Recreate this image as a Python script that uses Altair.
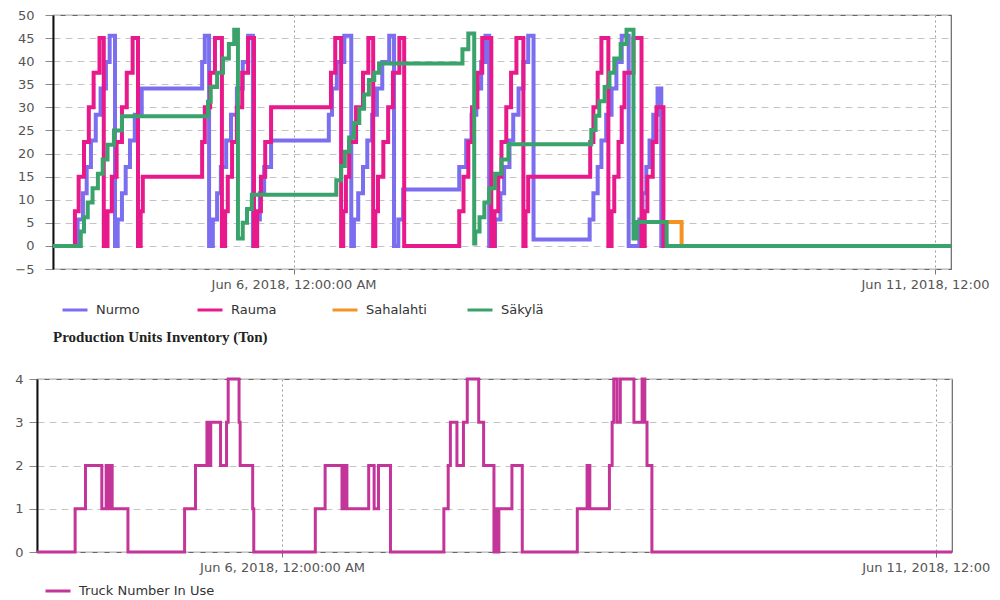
import altair as alt
import pandas as pd

# ---------------- data (hours counted from 2018-06-04 00:00, value) ----------------
BASE = pd.Timestamp("2018-06-04 00:00:00")

UNITS = ["Nurmo", "Rauma", "Sahalahti", "Säkylä"]
COLORS = ["#7b6ff0", "#e8198b", "#f39322", "#3aa36b"]
DRAW_ORDER = ["Sahalahti", "Nurmo", "Rauma", "Säkylä"]

NURMO = [(3, 0), (7.6, 5.7), (8.6, 11.4), (9.3, 17.1), (10.1, 22.8), (11.0, 28.4), (11.9, 34.1),
         (12.9, 39.8), (13.6, 45.5), (14.6, 0), (15.1, 5.7), (15.9, 11.4), (16.6, 17.1), (17.4, 22.8),
         (18.3, 28.4), (19.6, 34.1), (30.9, 39.8), (31.4, 45.5), (32.2, 0), (32.9, 5.7), (33.7, 11.4),
         (34.4, 17.1), (35.4, 22.8), (36.3, 28.4), (37.4, 34.1), (38.5, 39.8), (39.5, 45.5), (40.4, 0),
         (41.0, 5.7), (41.7, 11.4), (42.5, 17.1), (43.8, 22.8), (54.6, 28.4), (55.2, 34.1), (56.1, 39.8),
         (57.5, 45.5), (58.8, 0), (59.3, 5.7), (60.1, 11.4), (61.0, 17.1), (61.8, 22.8), (62.7, 28.4),
         (63.6, 34.1), (64.6, 39.8), (65.9, 45.5), (66.8, 0), (67.6, 5.7), (68.5, 12.2), (79.0, 17.1),
         (80.3, 22.8), (81.3, 28.4), (82.2, 34.1), (83.1, 39.8), (83.9, 45.5), (84.6, 0), (85.7, 5.7),
         (86.7, 11.4), (87.4, 17.1), (88.4, 22.8), (89.1, 28.4), (90.1, 34.1), (91.0, 39.8), (91.9, 45.5),
         (92.9, 1.4), (103.4, 5.7), (104.1, 11.4), (104.9, 17.1), (105.6, 22.8), (106.5, 28.4),
         (107.5, 34.1), (108.4, 39.8), (109.4, 45.5), (110.7, 0), (112.7, 5.7), (113.3, 11.4),
         (114.0, 17.1), (114.6, 22.8), (115.3, 28.4), (116.1, 34.1), (116.8, 0), (171, 0)]

RAUMA = [(3, 0), (7.1, 7.5), (7.8, 15), (8.8, 22.5), (9.7, 30), (10.6, 37.5), (11.7, 45), (12.5, 0),
         (13.2, 7.5), (14.0, 15), (14.9, 22.5), (15.9, 30), (16.8, 37.5), (17.9, 45), (18.9, 0),
         (19.4, 7.5), (19.8, 15), (30.9, 22.5), (31.4, 30), (32.4, 37.5), (33.3, 45), (34.6, 0),
         (35.2, 7.5), (35.7, 15), (36.5, 22.5), (37.4, 30), (38.4, 37.5), (39.5, 45), (40.6, 0),
         (41.2, 7.5), (41.9, 15), (42.7, 22.5), (43.8, 30), (55.0, 37.5), (55.8, 45), (56.9, 0),
         (57.3, 7.5), (57.8, 15), (58.4, 22.5), (59.7, 30), (61.0, 37.5), (62.0, 45), (62.9, 0),
         (63.3, 7.5), (63.8, 15), (64.8, 22.5), (65.7, 30), (66.6, 37.5), (67.8, 45), (68.7, 0),
         (79.0, 7.5), (79.8, 15), (80.7, 22.5), (81.4, 30), (82.4, 37.5), (83.3, 45), (85.0, 0),
         (85.6, 7.5), (86.3, 15), (86.9, 22.5), (87.8, 30), (88.7, 37.5), (89.7, 45), (91.0, 0),
         (91.4, 7.5), (91.9, 15), (103.5, 22.5), (104.1, 30), (104.9, 37.5), (105.6, 45), (106.9, 0),
         (107.5, 7.5), (108.0, 15), (108.8, 22.5), (109.4, 30), (109.9, 37.5), (111.6, 45), (113.1, 0),
         (113.7, 7.5), (114.2, 15), (115.2, 22.5), (115.9, 30), (117.2, 0), (171, 0)]

SAHALAHTI = [(112.2, 5.2), (120.6, 0), (171, 0)]

SAKYLA = [(3, 0), (8.2, 3.1), (8.8, 6.2), (9.5, 9.4), (10.4, 12.5), (11.4, 15.6), (12.3, 18.7),
          (13.2, 21.9), (14.4, 25.0), (15.9, 28.1), (32.0, 31.2), (32.5, 34.4), (33.7, 37.5),
          (34.8, 40.6), (35.9, 43.7), (36.9, 46.8), (37.6, 1.6), (38.5, 5.0), (39.3, 8.0), (40.2, 11.1),
          (56.0, 14.2), (56.9, 17.3), (57.6, 20.4), (58.4, 23.5), (59.3, 26.6), (60.3, 29.7),
          (61.2, 32.8), (62.1, 35.9), (63.1, 37.5), (64.0, 39.5), (79.6, 42.6), (80.7, 46.0),
          (81.8, 0.5), (82.0, 3.1), (82.8, 6.2), (83.7, 9.4), (84.6, 12.5), (85.7, 15.6), (86.9, 18.7),
          (88.2, 22.0), (103.7, 25.1), (104.5, 28.2), (105.2, 31.3), (106.2, 34.4), (107.1, 37.5),
          (108.0, 40.6), (109.2, 43.7), (110.3, 46.8), (111.6, 1.6), (112.2, 5.2), (117.8, 0), (171, 0)]

TRUCK = [(3, 0), (10.0, 1), (11.9, 2), (14.9, 1), (15.7, 2), (16.0, 1), (16.3, 2), (16.8, 1), (19.7, 0),
         (30.1, 1), (32.1, 2), (34.2, 3), (34.6, 2), (34.9, 3), (36.7, 2), (37.8, 3), (38.1, 4),
         (40.1, 3), (40.3, 2), (42.6, 1), (42.8, 0), (54.1, 1), (55.9, 2), (59.0, 1), (59.5, 2),
         (59.9, 1), (63.9, 2), (64.9, 1), (65.7, 2), (67.9, 0), (77.7, 1), (78.5, 2), (78.9, 3),
         (80.1, 2), (81.3, 3), (82.0, 4), (84.1, 3), (85.0, 2), (86.9, 0), (87.3, 1), (87.6, 0),
         (87.8, 1), (90.2, 2), (92.1, 0), (102.2, 1), (104.0, 2), (104.5, 1), (108.1, 2), (108.6, 3),
         (108.9, 4), (109.5, 3), (110.1, 4), (112.6, 3), (114.1, 4), (114.6, 3), (115.0, 2),
         (115.9, 0), (171, 0)]

TICK_LABELS = ["Jun 6, 2018, 12:00:00 AM", "Jun 11, 2018, 12:00"]
Y_TICKS_TOP = [-5, 0, 5, 10, 15, 20, 25, 30, 35, 40, 45, 50]
Y_TICKS_BOTTOM = [0, 1, 2, 3, 4]


def frame(pairs, name):
    return pd.DataFrame({
        "time": [(BASE + pd.Timedelta(hours=h)).strftime("%Y-%m-%dT%H:%M:%S") for h, _ in pairs],
        "value": [v for _, v in pairs],
        "series": name,
    })


top_df = pd.concat([frame(NURMO, "Nurmo"), frame(RAUMA, "Rauma"),
                    frame(SAHALAHTI, "Sahalahti"), frame(SAKYLA, "Säkylä")], ignore_index=True)
truck_df = frame(TRUCK, "Truck Number In Use")

X_DOMAIN = [alt.DateTime(year=2018, month=6, date=4, hours=3),
            alt.DateTime(year=2018, month=6, date=11, hours=3)]
X_TICKS = [alt.DateTime(year=2018, month=6, date=6, hours=0),
           alt.DateTime(year=2018, month=6, date=11, hours=0)]

label_expr = ("timeFormat(datum.value, '%d') == '06' ? '" + TICK_LABELS[0] + "' : '" + TICK_LABELS[1] + "'")
late_test = "timeFormat(datum.value, '%d') == '11'"

FONT = "DejaVu Sans"


def x_axis():
    return alt.Axis(values=X_TICKS, title=None, grid=True, gridDash=[2, 3], gridColor="#9a9a9a",
                    gridWidth=1, domain=False, ticks=True, tickSize=5, tickColor="#777",
                    labelExpr=label_expr, labelFont=FONT, labelFontSize=13, labelColor="#555",
                    labelPadding=4, labelFlush=False, labelOverlap=False,
                    labelOffset={"condition": {"test": late_test, "value": -10}, "value": 0})


def y_axis(values, pad):
    return alt.Axis(values=values, title=None, grid=True, gridDash=[7, 5], gridColor="#c4c4c4",
                    domainColor="#111", domainWidth=2, tickSize=8, tickColor="#888",
                    labelPadding=pad, labelColor="#555", labelFont=FONT, labelFontSize=13,
                    labelOverlap=False, labelFlush=False)


top_base = alt.Chart(top_df).mark_line(interpolate="step-after", strokeWidth=4,
                                        strokeJoin="miter", strokeCap="butt").encode(
    x=alt.X("time:T", scale=alt.Scale(domain=X_DOMAIN), axis=x_axis()),
    y=alt.Y("value:Q", scale=alt.Scale(domain=[-5, 50], nice=False, zero=False),
            axis=y_axis(Y_TICKS_TOP, 11)),
    color=alt.Color("series:N", scale=alt.Scale(domain=UNITS, range=COLORS),
                    legend=alt.Legend(orient="bottom", direction="horizontal", columns=4,
                                      title=None, symbolType="stroke", symbolSize=625,
                                      symbolStrokeWidth=3, labelFont=FONT, labelFontSize=13,
                                      labelColor="#333", labelOffset=7, padding=8, offset=-3,
                                      gridAlign="all", columnPadding=34)),
)

top = alt.layer(*[top_base.transform_filter(alt.datum.series == u) for u in DRAW_ORDER]).properties(
    width=898, height=254,
    title=alt.TitleParams("Production Units Inventory (Ton)", orient="bottom", anchor="start",
                          frame="group", font="Liberation Serif", fontSize=15, fontWeight="bold",
                          color="#222", offset=5),
)

bottom = alt.Chart(truck_df).mark_line(interpolate="step-after", strokeWidth=3,
                                        strokeJoin="miter", strokeCap="butt").encode(
    x=alt.X("time:T", scale=alt.Scale(domain=X_DOMAIN), axis=x_axis()),
    y=alt.Y("value:Q", scale=alt.Scale(domain=[0, 4], nice=False),
            axis=y_axis(Y_TICKS_BOTTOM, 6)),
    color=alt.Color("series:N", scale=alt.Scale(range=["#c4359a"]),
                    legend=alt.Legend(orient="none", legendX=7, legendY=198, title=None,
                                      symbolType="stroke", symbolSize=625, symbolStrokeWidth=3,
                                      labelFont=FONT, labelFontSize=13, labelColor="#333",
                                      labelOffset=7, padding=0)),
).properties(width=915, height=173)


def spacer():
    return alt.Chart(pd.DataFrame({"s": [0]})).mark_point(size=0, opacity=0).properties(
        width=1, height=1, view=alt.ViewBackground(strokeOpacity=0))


row_top = alt.hconcat(spacer(), top, spacing=0).resolve_scale(color="independent")
row_bottom = alt.hconcat(spacer(), bottom, spacing=0).resolve_scale(color="independent")

chart = alt.vconcat(row_top, row_bottom, spacing=26).resolve_scale(
    color="independent"
).properties(
    padding={"left": 5, "top": 0, "right": 0, "bottom": 0}
).configure_view(stroke="#666", strokeWidth=1.2)

chart.save("out.html", embed_options={"renderer": "svg", "actions": False})
